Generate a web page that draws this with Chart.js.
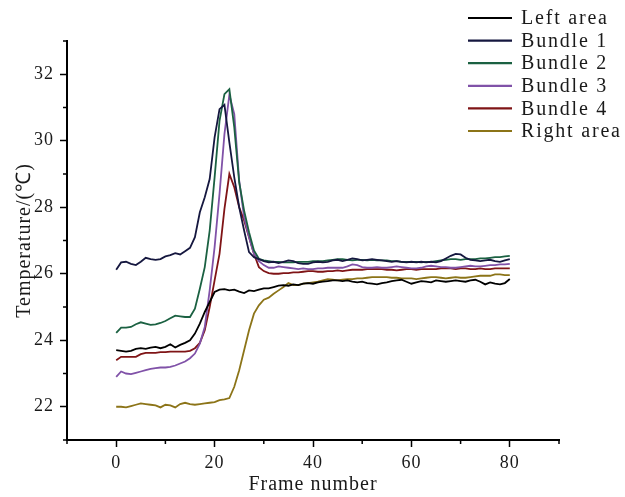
<!DOCTYPE html>
<html>
<head>
<meta charset="utf-8">
<script src="https://cdn.jsdelivr.net/npm/chart.js@4/dist/chart.umd.min.js"></script>
<style>
  html, body { margin: 0; padding: 0; background: #fff; }
  canvas { display: block; }
</style>
</head>
<body>
<canvas id="tempChart" width="625" height="497"></canvas>
<script>
// frame index 0..80
const frames = Array.from({ length: 81 }, (_, i) => i);

const seriesNames = ['Left area', 'Bundle 1', 'Bundle 2', 'Bundle 3', 'Bundle 4', 'Right area'];
const seriesColors = ['#000000', '#15173f', '#1b6142', '#8052a8', '#7f1416', '#8c7418'];

const leftArea = [
  23.70, 23.68, 23.66, 23.68, 23.74, 23.76, 23.74, 23.78, 23.80, 23.76,
  23.80, 23.88, 23.78, 23.86, 23.92, 24.00, 24.20, 24.50, 24.85, 25.15,
  25.45, 25.52, 25.54, 25.50, 25.52, 25.46, 25.42, 25.50, 25.48, 25.52,
  25.56, 25.56, 25.60, 25.64, 25.66, 25.64, 25.68, 25.66, 25.70, 25.72,
  25.70, 25.74, 25.76, 25.78, 25.80, 25.80, 25.78, 25.80, 25.76, 25.74,
  25.76, 25.72, 25.70, 25.68, 25.72, 25.74, 25.78, 25.80, 25.82, 25.76,
  25.70, 25.74, 25.78, 25.76, 25.74, 25.80, 25.78, 25.76, 25.78, 25.80,
  25.78, 25.76, 25.80, 25.82, 25.76, 25.68, 25.74, 25.70, 25.68, 25.72,
  25.84
];
const bundle1 = [
  26.12, 26.34, 26.36, 26.30, 26.26, 26.36, 26.48, 26.44, 26.42, 26.44,
  26.52, 26.56, 26.62, 26.58, 26.68, 26.78, 27.10, 27.85, 28.30, 28.85,
  30.10, 30.95, 31.08, 29.95, 28.90, 28.00, 27.30, 26.65, 26.50, 26.44,
  26.38, 26.34, 26.36, 26.32, 26.36, 26.40, 26.38, 26.32, 26.30, 26.30,
  26.34, 26.36, 26.34, 26.36, 26.40, 26.42, 26.38, 26.42, 26.46, 26.44,
  26.40, 26.42, 26.44, 26.42, 26.40, 26.38, 26.36, 26.38, 26.36, 26.34,
  26.36, 26.34, 26.36, 26.34, 26.36, 26.34, 26.38, 26.46, 26.54, 26.60,
  26.58, 26.48, 26.42, 26.40, 26.38, 26.40, 26.42, 26.38, 26.36, 26.40,
  26.44
];
const bundle2 = [
  24.22, 24.38, 24.38, 24.40, 24.48, 24.54, 24.50, 24.46, 24.48, 24.52,
  24.58, 24.66, 24.74, 24.72, 24.70, 24.70, 24.95, 25.55, 26.20, 27.30,
  28.90, 30.60, 31.40, 31.55, 30.40, 28.75, 27.90, 27.25, 26.70, 26.45,
  26.40, 26.38, 26.36, 26.36, 26.34, 26.34, 26.34, 26.36, 26.36, 26.36,
  26.38, 26.38, 26.38, 26.40, 26.42, 26.44, 26.44, 26.42, 26.40, 26.42,
  26.42, 26.40, 26.42, 26.40, 26.40, 26.40, 26.38, 26.38, 26.36, 26.36,
  26.36, 26.36, 26.34, 26.36, 26.36, 26.38, 26.40, 26.42, 26.44, 26.44,
  26.42, 26.44, 26.44, 26.44, 26.46, 26.46, 26.48, 26.50, 26.50, 26.52,
  26.54
];
const bundle3 = [
  22.90, 23.06, 23.00, 22.98, 23.02, 23.06, 23.10, 23.14, 23.16, 23.18,
  23.18, 23.20, 23.24, 23.30, 23.36, 23.46, 23.60, 23.90, 24.40, 25.50,
  26.80, 28.40, 30.20, 31.38, 30.80, 28.80, 27.70, 27.10, 26.60, 26.38,
  26.26, 26.18, 26.18, 26.22, 26.20, 26.18, 26.16, 26.14, 26.16, 26.14,
  26.14, 26.16, 26.16, 26.18, 26.18, 26.18, 26.18, 26.22, 26.28, 26.26,
  26.20, 26.18, 26.18, 26.20, 26.18, 26.18, 26.20, 26.22, 26.20, 26.18,
  26.16, 26.16, 26.18, 26.22, 26.24, 26.22, 26.20, 26.20, 26.18, 26.18,
  26.20, 26.22, 26.24, 26.22, 26.22, 26.24, 26.26, 26.26, 26.28, 26.28,
  26.30
];
const bundle4 = [
  23.40, 23.50, 23.50, 23.50, 23.50, 23.58, 23.62, 23.62, 23.62, 23.64,
  23.64, 23.66, 23.66, 23.66, 23.66, 23.68, 23.76, 23.92, 24.30, 25.00,
  25.80, 26.60, 27.95, 29.00, 28.60, 28.00, 27.60, 27.10, 26.60, 26.20,
  26.08, 26.02, 26.00, 26.00, 26.02, 26.02, 26.04, 26.04, 26.06, 26.08,
  26.08, 26.06, 26.06, 26.08, 26.08, 26.10, 26.08, 26.10, 26.12, 26.12,
  26.12, 26.14, 26.14, 26.14, 26.14, 26.12, 26.12, 26.10, 26.12, 26.14,
  26.14, 26.12, 26.14, 26.14, 26.14, 26.14, 26.16, 26.16, 26.16, 26.14,
  26.16, 26.16, 26.14, 26.14, 26.16, 26.14, 26.14, 26.16, 26.16, 26.16,
  26.16
];
const rightArea = [
  22.00, 22.00, 21.98, 22.02, 22.06, 22.10, 22.08, 22.06, 22.04, 21.98,
  22.06, 22.04, 21.98, 22.08, 22.12, 22.08, 22.06, 22.08, 22.10, 22.12,
  22.14, 22.20, 22.22, 22.26, 22.60, 23.10, 23.70, 24.30, 24.80, 25.05,
  25.22, 25.28, 25.40, 25.50, 25.60, 25.72, 25.66, 25.66, 25.70, 25.72,
  25.74, 25.76, 25.80, 25.84, 25.82, 25.80, 25.82, 25.84, 25.84, 25.86,
  25.86, 25.88, 25.90, 25.90, 25.90, 25.90, 25.88, 25.88, 25.86, 25.86,
  25.86, 25.84, 25.86, 25.88, 25.90, 25.90, 25.88, 25.86, 25.88, 25.90,
  25.88, 25.88, 25.90, 25.92, 25.94, 25.94, 25.94, 25.98, 25.98, 25.96,
  25.96
];

const xMajorTicks = [0, 20, 40, 60, 80];
const xMinorTicks = [-10, 10, 30, 50, 70, 90];
const yMajorTicks = [22, 24, 26, 28, 30, 32];
const yMinorTicks = [21, 23, 25, 27, 29, 31, 33];

const allSeries = [leftArea, bundle1, bundle2, bundle3, bundle4, rightArea];

const SERIF = "'Liberation Serif', 'Times New Roman', serif";
Chart.defaults.font.family = SERIF;
Chart.defaults.color = '#1a1a1a';

// wider letter spacing on all canvas text
const spacingPlugin = {
  id: 'spacing',
  beforeDraw(chart) {
    chart.ctx.letterSpacing = '1px';
  }
};

// short outward ticks between the labelled ones
const minorTicksPlugin = {
  id: 'minorTicks',
  afterDraw(chart) {
    const { ctx, chartArea, scales } = chart;
    ctx.save();
    ctx.strokeStyle = '#000';
    ctx.lineWidth = 1.5;
    ctx.beginPath();
    xMinorTicks.forEach(v => {
      const px = scales.x.getPixelForValue(v);
      ctx.moveTo(px, chartArea.bottom);
      ctx.lineTo(px, chartArea.bottom + 4);
    });
    yMinorTicks.forEach(v => {
      const py = scales.y.getPixelForValue(v);
      ctx.moveTo(chartArea.left, py);
      ctx.lineTo(chartArea.left - 4, py);
    });
    ctx.stroke();
    ctx.restore();
  }
};

// legend block in the upper right corner
const sideLegendPlugin = {
  id: 'sideLegend',
  afterDraw(chart) {
    const { ctx } = chart;
    ctx.save();
    ctx.font = '20px ' + SERIF;
    ctx.letterSpacing = '1.8px';
    ctx.textBaseline = 'middle';
    ctx.textAlign = 'left';
    chart.data.datasets.forEach((ds, i) => {
      const y = 18 + i * 22.6;
      ctx.strokeStyle = ds.borderColor;
      ctx.lineWidth = 2.2;
      ctx.beginPath();
      ctx.moveTo(468, y);
      ctx.lineTo(512, y);
      ctx.stroke();
      ctx.fillStyle = '#1a1a1a';
      ctx.fillText(ds.label, 521, y + 1);
    });
    ctx.restore();
  }
};

const datasets = seriesNames.map((name, i) => ({
  label: name,
  data: frames.map((f, j) => ({ x: f, y: allSeries[i][j] })),
  borderColor: seriesColors[i],
  borderWidth: 1.8,
  pointRadius: 0,
  tension: 0,
  fill: false
}));

new Chart(document.getElementById('tempChart'), {
  type: 'line',
  data: { datasets: datasets },
  options: {
    responsive: false,
    animation: false,
    layout: { padding: { top: 41, right: 66, bottom: 0, left: 0 } },
    plugins: {
      legend: { display: false },
      tooltip: { enabled: false }
    },
    scales: {
      x: {
        type: 'linear',
        min: -10,
        max: 90,
        afterBuildTicks: scale => { scale.ticks = xMajorTicks.map(v => ({ value: v })); },
        afterFit: scale => { scale.height = 57; },
        grid: { drawOnChartArea: false, tickLength: 7, tickColor: '#000', tickWidth: 1.5 },
        border: { color: '#000', width: 2 },
        ticks: { padding: 5, maxRotation: 0, font: { size: 18 } },
        title: {
          display: true,
          text: 'Frame number',
          font: { size: 20 },
          padding: { top: 0, bottom: 0 }
        }
      },
      y: {
        type: 'linear',
        min: 21,
        max: 33,
        afterBuildTicks: scale => { scale.ticks = yMajorTicks.map(v => ({ value: v })); },
        afterFit: scale => { scale.width = 67; },
        grid: { drawOnChartArea: false, tickLength: 7, tickColor: '#000', tickWidth: 1.5 },
        border: { color: '#000', width: 2 },
        ticks: { padding: 6, font: { size: 18 } },
        title: {
          display: true,
          text: 'Temperature/(℃)',
          font: { size: 20 },
          padding: { top: 13, bottom: 0 }
        }
      }
    }
  },
  plugins: [spacingPlugin, minorTicksPlugin, sideLegendPlugin]
});
</script>
</body>
</html>
